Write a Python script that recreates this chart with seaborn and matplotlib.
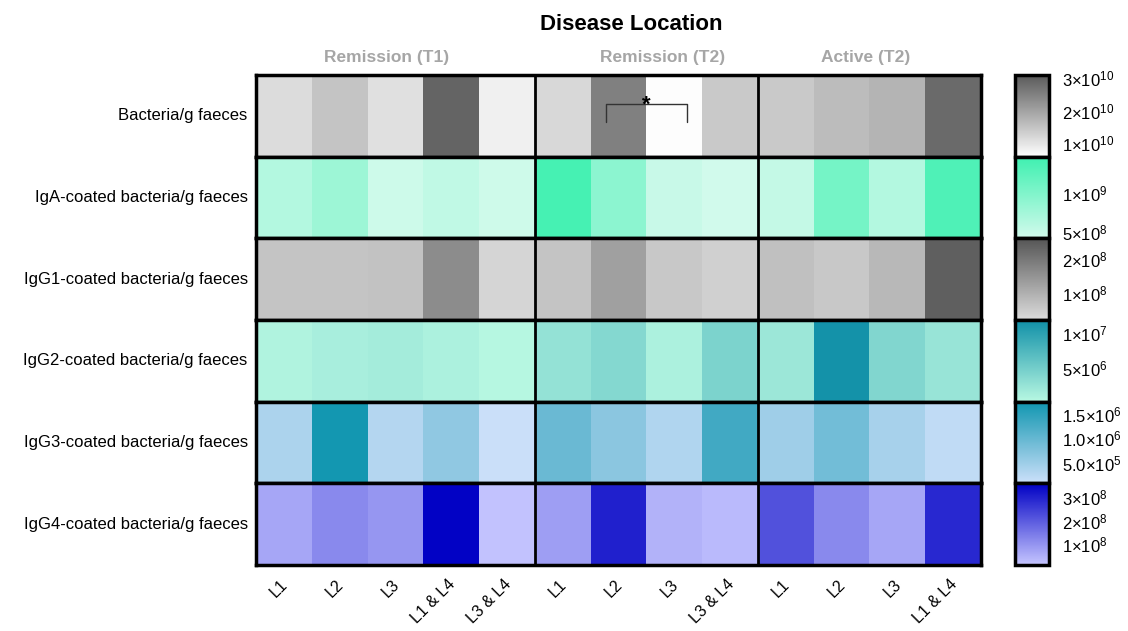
import numpy as np
import matplotlib
matplotlib.use("Agg")
import matplotlib.pyplot as plt
import matplotlib.transforms as mtransforms
import seaborn as sns
from matplotlib.colors import LinearSegmentedColormap

sns.set_theme(style="white")
plt.rcParams['font.family'] = ['Liberation Sans', 'DejaVu Sans']
plt.rcParams['mathtext.fontset'] = 'custom'
plt.rcParams['mathtext.rm'] = 'Liberation Sans'
plt.rcParams['mathtext.it'] = 'Liberation Sans:italic'
plt.rcParams['mathtext.bf'] = 'Liberation Sans:bold'

# ---- data -------------------------------------------------------------
title = "Disease Location"
groups = ["Remission (T1)", "Remission (T2)", "Active (T2)"]
locs_remission_t1 = ["L1", "L2", "L3", "L1 & L4", "L3 & L4"]
locs_remission_t2 = ["L1", "L2", "L3", "L3 & L4"]
locs_active_t2 = ["L1", "L2", "L3", "L1 & L4"]
col_labels = locs_remission_t1 + locs_remission_t2 + locs_active_t2

measures = [
    "Bacteria/g faeces",
    "IgA-coated bacteria/g faeces",
    "IgG1-coated bacteria/g faeces",
    "IgG2-coated bacteria/g faeces",
    "IgG3-coated bacteria/g faeces",
    "IgG4-coated bacteria/g faeces",
]

bacteria = [1.11e10, 1.47e10, 1.05e10, 2.95e10, 0.80e10,
            1.17e10, 2.52e10, 0.60e10, 1.41e10,
            1.41e10, 1.60e10, 1.72e10, 2.86e10]
iga = [0.64e9, 0.80e9, 0.46e9, 0.55e9, 0.45e9,
       1.41e9, 0.92e9, 0.49e9, 0.43e9,
       0.52e9, 1.08e9, 0.64e9, 1.35e9]
igg1 = [0.63e8, 0.63e8, 0.66e8, 1.62e8, 0.34e8,
        0.63e8, 1.27e8, 0.56e8, 0.41e8,
        0.70e8, 0.56e8, 0.84e8, 2.42e8]
igg2 = [0.70e6, 1.26e6, 1.54e6, 0.98e6, 0.30e6,
        2.65e6, 3.76e6, 0.98e6, 4.30e6,
        2.10e6, 11.5e6, 4.00e6, 2.37e6]
igg3 = [0.37e6, 1.72e6, 0.30e6, 0.62e6, 0.10e6,
        0.95e6, 0.66e6, 0.33e6, 1.31e6,
        0.48e6, 0.88e6, 0.41e6, 0.19e6]
igg4 = [0.67e8, 1.17e8, 0.96e8, 3.55e8, 0.17e8,
        0.81e8, 3.03e8, 0.46e8, 0.31e8,
        2.17e8, 1.17e8, 0.67e8, 2.89e8]
row_values = [bacteria, iga, igg1, igg2, igg3, igg4]

# colour ranges per row
row_ranges = [(0.57e10, 3.1e10), (0.42e9, 1.47e9), (0.2e8, 2.6e8),
              (0.15e6, 1.18e7), (0.08e6, 1.75e6), (0.1e8, 3.6e8)]
row_colors = [("#ffffff", "#5a5a5a"), ("#d2faec", "#3ef0b0"),
              ("#dcdcdc", "#555555"), ("#b8f8e2", "#1090a8"),
              ("#cce0fa", "#1096b0"), ("#c6c6ff", "#0000c4")]

cbar_ticks = [[1e10, 2e10, 3e10], [5e8, 1e9], [1e8, 2e8],
              [5e6, 1e7], [5e5, 1e6, 1.5e6], [1e8, 2e8, 3e8]]
cbar_ticklabels = [
    [r"$1{\times}10^{10}$", r"$2{\times}10^{10}$", r"$3{\times}10^{10}$"],
    [r"$5{\times}10^{8}$", r"$1{\times}10^{9}$"],
    [r"$1{\times}10^{8}$", r"$2{\times}10^{8}$"],
    [r"$5{\times}10^{6}$", r"$1{\times}10^{7}$"],
    [r"$5.0{\times}10^{5}$", r"$1.0{\times}10^{6}$", r"$1.5{\times}10^{6}$"],
    [r"$1{\times}10^{8}$", r"$2{\times}10^{8}$", r"$3{\times}10^{8}$"],
]

# ---- layout -----------------------------------------------------------
W, H = 1128, 631
fig = plt.figure(figsize=(W / 100, H / 100), dpi=100)


def px_rect(x0, y0, x1, y1):
    return [x0 / W, 1 - y1 / H, (x1 - x0) / W, (y1 - y0) / H]


top, bottom = 75, 565
row_h = (bottom - top) / len(measures)
group_edges = [len(locs_remission_t1),
               len(locs_remission_t1) + len(locs_remission_t2)]
label_shift = mtransforms.ScaledTranslation(0.07, 0.02, fig.dpi_scale_trans)

axes = []
for i, (name, vals) in enumerate(zip(measures, row_values)):
    y0 = top + i * row_h
    ax = fig.add_axes(px_rect(256, y0, 981, y0 + row_h))
    cax = fig.add_axes(px_rect(1015, y0, 1049, y0 + row_h))
    cmap = LinearSegmentedColormap.from_list(f"row{i}", list(row_colors[i]))
    vmin, vmax = row_ranges[i]
    last = i == len(measures) - 1
    sns.heatmap(np.array([vals]), ax=ax, cmap=cmap, vmin=vmin, vmax=vmax,
                cbar_ax=cax, linewidths=0,
                xticklabels=col_labels if last else False,
                yticklabels=[name])
    for s in ax.spines.values():
        s.set_visible(True)
        s.set_color("black")
        s.set_linewidth(2.5)
    for e in group_edges:
        ax.axvline(e, color="black", lw=2)
    ax.tick_params(axis="y", left=False, length=0, pad=6, labelsize=12,
                   labelcolor="black", rotation=0)
    ax.tick_params(axis="x", bottom=False, length=0, pad=10, labelsize=11.5,
                   labelcolor="black")
    if last:
        for lab in ax.get_xticklabels():
            lab.set_rotation(45)
            lab.set_ha("right")
            lab.set_transform(lab.get_transform() + label_shift)

    cbar = ax.collections[0].colorbar
    cbar.set_ticks(cbar_ticks[i])
    cbar.set_ticklabels(cbar_ticklabels[i])
    cbar.minorticks_off()
    cbar.outline.set_visible(True)
    cbar.outline.set_edgecolor("black")
    cbar.outline.set_linewidth(2.5)
    cax.tick_params(axis="y", direction="in", left=True, right=True,
                    labelleft=False, labelright=True, length=5, width=1.5,
                    color="black", labelsize=12, labelcolor="black", pad=9)
    axes.append(ax)

# significance bracket between Remission (T2) L2 and L3
ax0 = axes[0]
ax0.plot([6.28, 6.28, 7.72, 7.72], [0.58, 0.36, 0.36, 0.58],
         color="#333333", lw=1)
ax0.text(7.0, 0.37, "*", ha="center", va="center", fontsize=16,
         fontweight="bold", color="black")

# group headers and title
group_x = [2.35, 7.29, 10.93]
for gx, g in zip(group_x, groups):
    ax0.annotate(g, xy=(gx, 1.22), xycoords=("data", "axes fraction"),
                 ha="center", va="center", fontsize=12.5, fontweight="bold",
                 color="#a6a6a6", annotation_clip=False)
ax0.annotate(title, xy=(6.72, 1.62), xycoords=("data", "axes fraction"),
             ha="center", va="center", fontsize=16, fontweight="bold",
             color="black", annotation_clip=False)

fig.savefig("out.png", dpi=100)
